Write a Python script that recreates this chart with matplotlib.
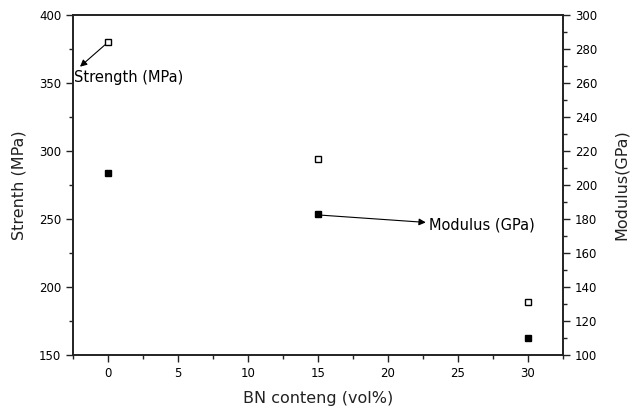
import matplotlib
matplotlib.use("Agg")
import matplotlib.pyplot as plt
from matplotlib.ticker import MultipleLocator

# data
bn_content = [0, 15, 30]
strength = [380, 294, 189]     # MPa, left axis, open squares
modulus = [207, 183, 110]      # GPa, right axis, filled squares

plt.rcParams['font.family'] = ['DejaVu Sans']

fig = plt.figure(figsize=(6.36, 4.12), dpi=100)
ax = fig.add_axes([0.1148, 0.1383, 0.7704, 0.8253])
ax2 = ax.twinx()

ax.plot(bn_content, strength, linestyle='none', marker='s', markersize=5,
        markerfacecolor='white', markeredgecolor='black', markeredgewidth=1)
ax2.plot(bn_content, modulus, linestyle='none', marker='s', markersize=5,
         markerfacecolor='black', markeredgecolor='black')

ax.set_xlim(-2.5, 32.5)
ax.set_ylim(150, 400)
ax2.set_ylim(100, 300)

ax.xaxis.set_major_locator(MultipleLocator(5))
ax.xaxis.set_minor_locator(MultipleLocator(2.5))
ax.yaxis.set_major_locator(MultipleLocator(50))
ax.yaxis.set_minor_locator(MultipleLocator(25))
ax2.yaxis.set_major_locator(MultipleLocator(20))
ax2.yaxis.set_minor_locator(MultipleLocator(10))

for a in (ax, ax2):
    for s in a.spines.values():
        s.set_linewidth(1.2)
        s.set_color('#222222')
    a.tick_params(which='both', direction='out', labelsize=8.5, width=1,
                  color='#222222')
    a.tick_params(which='major', length=5)
    a.tick_params(which='minor', length=3)

ax.set_xlabel('BN conteng (vol%)', fontsize=11.5, labelpad=8, color='#222222')
ax.set_ylabel('Strenth (MPa)', fontsize=11.5, labelpad=9, color='#222222')
ax2.set_ylabel('Modulus(GPa)', fontsize=11.5, labelpad=12, color='#222222')

# labels with arrows (left-axis data coords)
ax.text(-2.4, 354, 'Strength (MPa)', fontsize=10.5, ha='left', va='center')
ax.annotate('', xy=(-2.0, 362), xytext=(0, 380),
            arrowprops=dict(arrowstyle='-|>', color='black', lw=0.8,
                            shrinkA=3, shrinkB=0))

ax.text(22.9, 245.5, 'Modulus (GPa)', fontsize=10.5, ha='left', va='center')
ax.annotate('', xy=(22.7, 247.5), xytext=(15, 253),
            arrowprops=dict(arrowstyle='-|>', color='black', lw=0.8,
                            shrinkA=3, shrinkB=0))

fig.savefig('out.png', dpi=100)
